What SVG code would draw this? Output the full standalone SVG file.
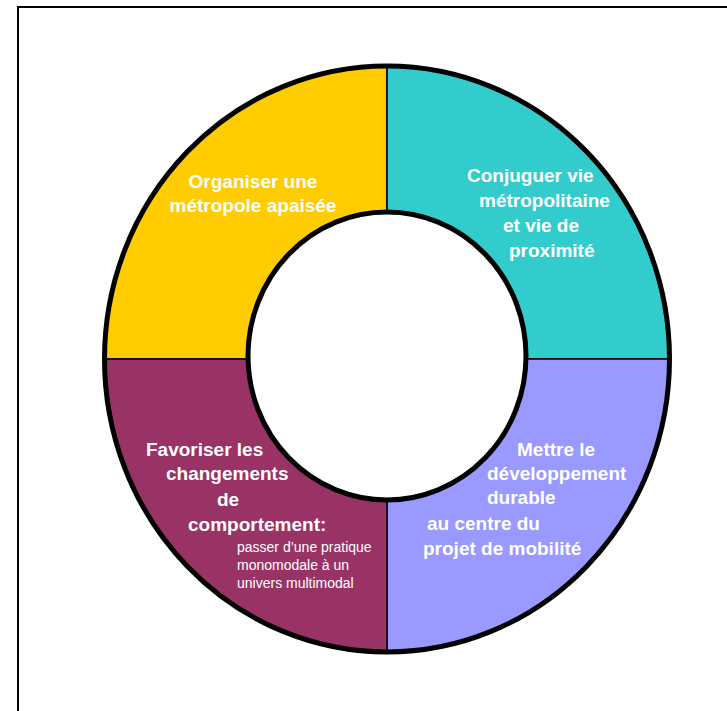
<svg xmlns="http://www.w3.org/2000/svg" width="727" height="711" viewBox="0 0 727 711">
  <style>
    .seg { stroke: #000; stroke-width: 1.5; }
    .t { font-family: "Liberation Sans", Arial, sans-serif; font-weight: bold; font-size: 19px; fill: #fff; }
    .s { font-family: "Liberation Sans", Arial, sans-serif; font-size: 14px; fill: #fff; }
  </style>
  <rect x="18" y="7" width="730" height="730" fill="#fff" stroke="#000" stroke-width="2"/>
  <g id="q-organiser">
    <path class="seg" fill="#FFCC00" d="M387,359 L104.5,359 A282.5,293 0 0 1 387,66 Z"/>
    <text class="t" text-anchor="middle" x="253" y="188">Organiser une</text>
    <text class="t" text-anchor="middle" x="253" y="212">métropole apaisée</text>
  </g>
  <g id="q-conjuguer">
    <path class="seg" fill="#33CCCC" d="M387,359 L387,66 A282.5,293 0 0 1 669.5,359 Z"/>
    <text class="t" x="467" y="182">Conjuguer vie</text>
    <text class="t" x="479" y="207">métropolitaine</text>
    <text class="t" x="503" y="232">et vie de</text>
    <text class="t" x="509" y="257">proximité</text>
  </g>
  <g id="q-mettre">
    <path class="seg" fill="#9999FF" d="M387,359 L669.5,359 A282.5,293 0 0 1 387,652 Z"/>
    <text class="t" x="517" y="456">Mettre le</text>
    <text class="t" x="487" y="480">développement</text>
    <text class="t" x="487" y="504">durable</text>
    <text class="t" x="427" y="530">au centre du</text>
    <text class="t" x="423" y="555">projet de mobilité</text>
  </g>
  <g id="q-favoriser">
    <path class="seg" fill="#993366" d="M387,359 L387,652 A282.5,293 0 0 1 104.5,359 Z"/>
    <text class="t" x="146" y="456">Favoriser les</text>
    <text class="t" x="166" y="480">changements</text>
    <text class="t" x="217" y="506">de</text>
    <text class="t" x="188" y="531">comportement:</text>
    <text class="s" x="237" y="552">passer d’une pratique</text>
    <text class="s" x="237" y="570">monomodale à un</text>
    <text class="s" x="237" y="588">univers multimodal</text>
  </g>
  <g id="ring">
    <ellipse cx="387" cy="356" rx="139" ry="144" fill="#fff" stroke="#000" stroke-width="5"/>
    <ellipse cx="387" cy="359" rx="282.5" ry="293" fill="none" stroke="#000" stroke-width="5"/>
  </g>
</svg>
